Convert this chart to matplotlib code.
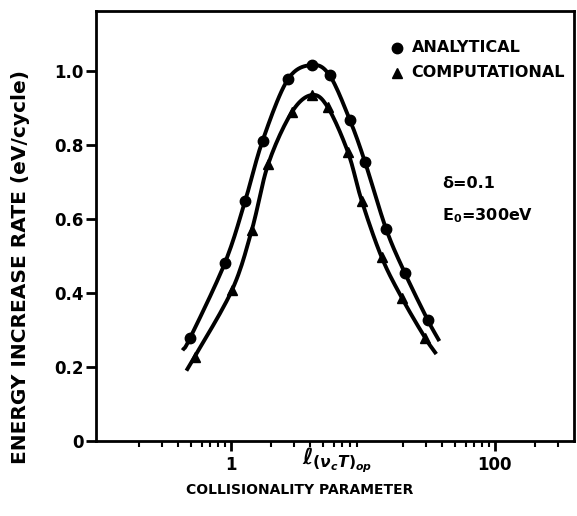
import numpy as np
import matplotlib
matplotlib.use("Agg")
import matplotlib.pyplot as plt
from matplotlib.ticker import FixedLocator, NullFormatter, LogLocator

# Data
x_analytical = [0.49, 0.90, 1.28, 1.74, 2.7, 4.1, 5.6, 7.96, 10.4, 15.0, 20.8, 31.0]
y_analytical = [0.278, 0.481, 0.648, 0.812, 0.977, 1.016, 0.988, 0.868, 0.753, 0.573, 0.454, 0.327]
x_computational = [0.53, 1.02, 1.44, 1.92, 2.9, 4.1, 5.4, 7.7, 9.8, 13.9, 19.8, 29.6]
y_computational = [0.227, 0.408, 0.570, 0.749, 0.889, 0.935, 0.903, 0.781, 0.649, 0.496, 0.386, 0.279]
# curve end points
x_analytical_ends = [0.43, 38.0]
y_analytical_ends = [0.245, 0.27]
x_computational_ends = [0.46, 36.0]
y_computational_ends = [0.19, 0.235]

x_ticks = [1, 100]
x_tick_labels = ["1", "100"]
y_ticks = [0, 0.2, 0.4, 0.6, 0.8, 1.0]
y_tick_labels = ["0", "0.2", "0.4", "0.6", "0.8", "1.0"]

plt.rcParams['font.family'] = ['DejaVu Sans']
plt.rcParams['font.weight'] = 'bold'

fig = plt.figure(figsize=(5.77, 5.16), dpi=100)
ax = fig.add_axes([96/577, 1-441/516, 478/577, 430/516])


def smooth_line(xs, ys, xe, ye, n=12):
    # Catmull-Rom rendering of the line through the read points, in log-x space
    X = np.log10([xe[0]] + list(xs) + [xe[1]])
    Y = np.array([ye[0]] + list(ys) + [ye[1]])
    P = np.column_stack([X, Y])
    P = np.vstack([2 * P[0] - P[1], P, 2 * P[-1] - P[-2]])
    out = []
    for i in range(1, len(P) - 2):
        p0, p1, p2, p3 = P[i - 1], P[i], P[i + 1], P[i + 2]
        for t in np.linspace(0, 1, n, endpoint=False):
            t2, t3 = t * t, t * t * t
            out.append(0.5 * ((2 * p1) + (-p0 + p2) * t +
                              (2 * p0 - 5 * p1 + 4 * p2 - p3) * t2 +
                              (-p0 + 3 * p1 - 3 * p2 + p3) * t3))
    out.append(P[-2])
    out = np.array(out)
    return 10 ** out[:, 0], out[:, 1]


Xa, Ya = smooth_line(x_analytical, y_analytical, x_analytical_ends, y_analytical_ends)
Xc, Yc = smooth_line(x_computational, y_computational, x_computational_ends, y_computational_ends)
ax.plot(Xa, Ya, color='black', lw=2.8, solid_capstyle='butt')
ax.plot(Xc, Yc, color='black', lw=2.8, solid_capstyle='butt')
ax.plot(x_analytical, y_analytical, 'o', color='black', ms=7.5)
ax.plot(x_computational, y_computational, '^', color='black', ms=7)

ax.set_xscale('log')
ax.set_xlim(0.095, 398)
ax.set_ylim(0, 1.162)

ax.xaxis.set_major_locator(FixedLocator(x_ticks))
ax.set_xticklabels(x_tick_labels)
ax.xaxis.set_minor_locator(LogLocator(base=10, subs=np.arange(2, 10)))
ax.xaxis.set_minor_formatter(NullFormatter())
ax.set_yticks(y_ticks)
ax.set_yticklabels(y_tick_labels)

for s in ax.spines.values():
    s.set_linewidth(2)
ax.tick_params(axis='both', which='major', direction='out', length=7, width=2,
               labelsize=12, pad=2)
ax.tick_params(axis='x', which='major', pad=4)
ax.tick_params(axis='x', which='minor', direction='out', length=4, width=1.5)
ax.tick_params(axis='y', which='minor', left=False)

ax.set_xlabel("COLLISIONALITY PARAMETER", fontsize=10, fontweight='bold')
ax.xaxis.set_label_coords(0.427, -0.097)
ax.set_ylabel("ENERGY INCREASE RATE (eV/cycle)", fontsize=14.5, fontweight='bold')
ax.yaxis.set_label_coords(-0.138, 0.405)

ax.text(3.45, -0.012, r'$\ell_{(\nu_c T)_{op}}$', fontsize=16, ha='left', va='top')

# legend (markers + labels)
ax.plot([0.63], [0.914], 'o', color='black', ms=7.5, transform=ax.transAxes, clip_on=False)
ax.plot([0.63], [0.856], '^', color='black', ms=7, transform=ax.transAxes, clip_on=False)
ax.text(0.66, 0.914, "ANALYTICAL", transform=ax.transAxes, fontsize=11.5,
        fontweight='bold', va='center', ha='left')
ax.text(0.66, 0.856, "COMPUTATIONAL", transform=ax.transAxes, fontsize=11.5,
        fontweight='bold', va='center', ha='left')

ax.text(0.724, 0.60, "δ=0.1", transform=ax.transAxes, fontsize=11.5,
        fontweight='bold', va='center')
ax.text(0.724, 0.523, r"E$_\mathbf{0}$=300eV", transform=ax.transAxes, fontsize=11.5,
        fontweight='bold', va='center')

fig.savefig("out.png", dpi=100)
